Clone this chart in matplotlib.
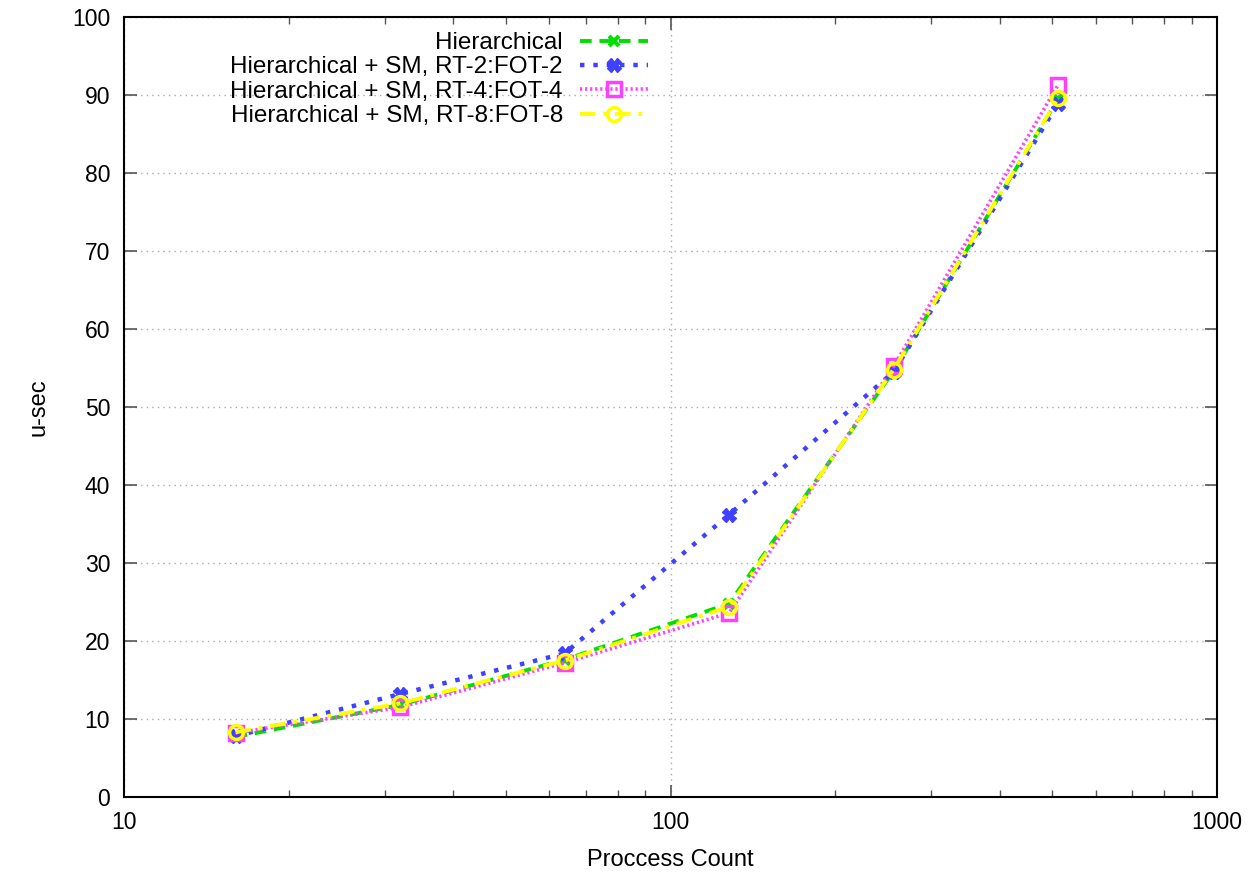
import matplotlib
matplotlib.use("Agg")
import matplotlib.pyplot as plt
from matplotlib.ticker import FixedLocator, NullFormatter, LogLocator

plt.rcParams['font.family'] = ['Liberation Sans', 'DejaVu Sans']

procs = [16, 32, 64, 128, 256, 512]
hier = [7.7, 11.8, 17.6, 24.8, 54.6, 89.5]
sm_rt2 = [7.8, 13.2, 18.4, 36.2, 54.5, 88.9]
sm_rt4 = [8.2, 11.5, 17.2, 23.6, 55.2, 91.3]
sm_rt8 = [8.3, 12.0, 17.5, 24.4, 54.8, 89.6]

labels = ['Hierarchical',
          'Hierarchical + SM, RT-2:FOT-2',
          'Hierarchical + SM, RT-4:FOT-4',
          'Hierarchical + SM, RT-8:FOT-8']

fig = plt.figure(figsize=(12.51, 8.73), dpi=100)
ax = fig.add_axes([124 / 1251, 76 / 873, 1093 / 1251, 780 / 873])

ax.plot(procs, hier, color='#00e000', linestyle=(0, (3, 2)), linewidth=2.8,
        marker='x', markersize=7, markeredgewidth=3, label=labels[0])
ax.plot(procs, sm_rt2, color='#4040ff', linestyle=(0, (1, 2)), linewidth=3.2,
        marker='X', markersize=10, label=labels[1])
ax.plot(procs, sm_rt4, color='#ff40ff', linestyle=(0, (0.6, 0.8)), linewidth=2.6,
        marker='s', markersize=10, fillstyle='none', markeredgewidth=2.5, label=labels[2])
ax.plot(procs, sm_rt8, color='#ffff00', linestyle=(0, (4, 2, 1, 2)), linewidth=2.8,
        marker='o', markersize=10, fillstyle='none', markeredgewidth=2.5, label=labels[3])

ax.set_xscale('log')
ax.set_xlim(10, 1000)
ax.set_ylim(0, 100)
ax.set_yticks(range(0, 101, 10))
ax.xaxis.set_major_locator(FixedLocator([10, 100, 1000]))
ax.xaxis.set_minor_locator(LogLocator(base=10, subs=range(2, 10)))
ax.xaxis.set_minor_formatter(NullFormatter())
ax.set_xticklabels(['10', '100', '1000'])

ax.tick_params(which='both', direction='in', top=True, right=True, labelsize=16.5,
               color='#555555')
ax.tick_params(which='major', length=9, width=1.2)
ax.tick_params(which='minor', length=5, width=1)
ax.tick_params(axis='x', pad=10)
ax.tick_params(axis='y', pad=10)
ax.grid(True, which='major', color='#aaaaaa', linestyle=(0, (1, 3)), linewidth=1)
for s in ax.spines.values():
    s.set_linewidth(1.5)

ax.set_xlabel('Proccess Count', fontsize=17, labelpad=11)
ax.set_ylabel('u-sec', fontsize=17, labelpad=16)

ax.legend(loc='upper right', bbox_to_anchor=(648 / 1251, 1 - 32 / 873),
          bbox_transform=fig.transFigure, frameon=False,
          markerfirst=False, fontsize=17.5, handlelength=2.8, labelspacing=0.1,
          handletextpad=0.7, borderaxespad=0, borderpad=0)

fig.savefig('out.png', dpi=100)
